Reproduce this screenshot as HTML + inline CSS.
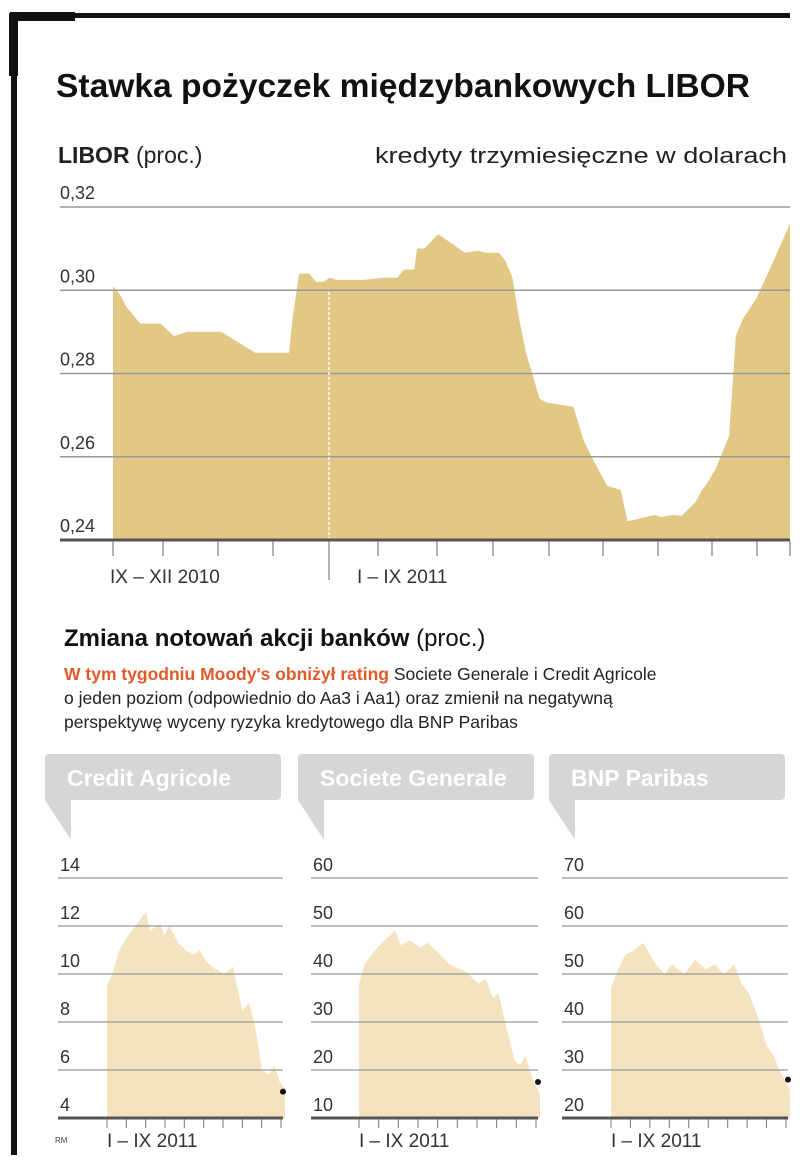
<!DOCTYPE html>
<html><head><meta charset="utf-8"><style>
body{margin:0;background:#fff;width:805px;height:1165px;overflow:hidden}
svg{display:block;font-family:"Liberation Sans Narrow","Liberation Sans",sans-serif}
</style></head><body>
<svg id="s" width="805" height="1165" viewBox="0 0 805 1165">
<rect x="10" y="12" width="65" height="9" fill="#111"/>
<rect x="10" y="13" width="780" height="5" fill="#111"/>
<rect x="9" y="13" width="9" height="63" fill="#111"/>
<rect x="11" y="13" width="6" height="1142" fill="#111"/>
<text x="56" y="97" font-size="33" font-weight="bold" fill="#111" textLength="694" lengthAdjust="spacingAndGlyphs">Stawka pożyczek międzybankowych LIBOR</text>
<text x="58" y="163" font-size="23" fill="#222"><tspan font-weight="bold">LIBOR</tspan> (proc.)</text>
<text x="787" y="163" font-size="22" fill="#222" text-anchor="end" textLength="412" lengthAdjust="spacingAndGlyphs">kredyty trzymiesięczne w dolarach</text>
<g id="topchart"></g>
<text x="64" y="646" font-size="24" fill="#111"><tspan font-weight="bold">Zmiana notowań akcji banków</tspan> (proc.)</text>
<text x="64" y="680" font-size="17.5" fill="#222"><tspan fill="#e05a2b" font-weight="bold">W tym tygodniu Moody's obniżył rating</tspan> Societe Generale i Credit Agricole</text>
<text x="64" y="704" font-size="17.5" fill="#222">o jeden poziom (odpowiednio do Aa3 i Aa1) oraz zmienił na negatywną</text>
<text x="64" y="728" font-size="17.5" fill="#222">perspektywę wyceny ryzyka kredytowego dla BNP Paribas</text>
<text x="55" y="1143" font-size="8" fill="#444">RM</text>
<g id="small"></g>
</svg>
<script>
const NS="http://www.w3.org/2000/svg";
function mk(tag,attrs,parent){const e=document.createElementNS(NS,tag);for(const k in attrs)e.setAttribute(k,attrs[k]);parent.appendChild(e);return e;}
const liborT=[0,1,2,4,7,9,11,16,18,20,21,26,26.5,27.5,29,30,31,32,33,37,40,42,43,44.5,44.9,46,48,52,54,55,57,58,59,60,61,63,64,68,69.5,71,73,75,76,80,81,82.5,84,86,87,87.5,89,91,92,93,95,97,100];
const liborV=[0.301,0.299,0.296,0.292,0.292,0.289,0.290,0.290,0.288,0.286,0.285,0.285,0.293,0.304,0.304,0.302,0.302,0.303,0.3025,0.3025,0.303,0.303,0.305,0.305,0.310,0.310,0.3135,0.309,0.3095,0.309,0.309,0.307,0.303,0.293,0.285,0.274,0.273,0.272,0.264,0.259,0.253,0.252,0.2445,0.246,0.2455,0.246,0.2458,0.249,0.252,0.253,0.257,0.265,0.289,0.293,0.298,0.305,0.316];
const liborTicks=[0.24,0.26,0.28,0.30,0.32];
const liborTickLabels=["0,24","0,26","0,28","0,30","0,32"];
const periodLabels=["IX – XII 2010","I – IX 2011"];
const banks=["Credit Agricole","Societe Generale","BNP Paribas"];
const caT=[0,3,7,11,16,22,24,30,32,35,40,44,49,52,56,61,66,71,73,76,80,84,87,91,94,97,100];
const caV=[9.5,10,11,11.5,12,12.6,11.8,12.1,11.6,12,11.3,11,10.8,11,10.5,10.2,10,10.3,9.5,8.5,8.8,7.5,6,5.8,6.2,5.5,5.2];
const sgT=[0,3,9,14,20,23,28,34,38,45,50,59,66,70,74,77,82,86,89,92,96,100];
const sgV=[38,42,45,47,49,46,47,45.5,46.5,44,42,40.5,38,39,35,36,28,22,21,23,18,15];
const bnT=[0,4,8,13,18,25,30,34,41,47,53,58,63,69,73,77,83,87,91,94,100];
const bnV=[47,51,54,55,56.5,52,50,52,50,53,51,52,50,52,48,46,40,35,33,30,26];
const yTicks=[[4,6,8,10,12,14],[10,20,30,40,50,60],[20,30,40,50,60,70]];
const lastDot=[5.1,17.5,28];

const X0=113,X1=790,Y0=540,Y1=207;
const lx=t=>X0+(X1-X0)*t/100, ly=v=>Y0-(v-0.24)/(0.32-0.24)*(Y0-Y1);
const topG=document.getElementById('topchart');
let d=`M${lx(liborT[0])},${Y0}`;liborT.forEach((t,i)=>d+=`L${lx(t)},${ly(liborV[i])}`);d+=`L${lx(liborT[liborT.length-1])},${Y0}Z`;
const area=mk('path',{d,fill:'#e3c785'},topG);


liborTicks.forEach((v,i)=>{
 const g=mk('line',{x1:60,x2:790,y1:ly(v),y2:ly(v),stroke:i==0?'#555':'#999','stroke-width':i==0?3:1.5},topG);
 
 
 const t=mk('text',{x:60,y:ly(v)-8,'font-size':18,fill:'#333'},topG);t.textContent=liborTickLabels[i];
 
 
});
const tickX=[113,163,218,273,378,437,493,549,603,658,712,757,790];
tickX.forEach(x=>{const l=mk('line',{x1:x,x2:x,y1:541,y2:556,stroke:'#888','stroke-width':1.3},topG);
 
 });
const dv=mk('line',{x1:329,x2:329,y1:292,y2:538,stroke:'#fff','stroke-width':1.5,'stroke-dasharray':'3,2'},topG);


const dv2=mk('line',{x1:329,x2:329,y1:541,y2:580,stroke:'#888','stroke-width':1.3},topG);


[[110,periodLabels[0]],[357,periodLabels[1]]].forEach(([x,s])=>{const t=mk('text',{x,y:583,'font-size':19,fill:'#333'},topG);t.textContent=s;
 
 });

const seriesT=[caT,sgT,bnT], seriesV=[caV,sgV,bnV];
const panelX=[[58,107,285],[311,359,540],[562,611,790]];
const SY0=1118,SY1=878;
const smallG=document.getElementById('small');
banks.forEach((name,b)=>{
 const [gx,ax0,ax1]=panelX[b];const tk=yTicks[b];const lo=tk[0],hi=tk[tk.length-1];
 const sx=t=>ax0+(ax1-ax0)*t/100, sy=v=>SY0-(v-lo)/(hi-lo)*(SY0-SY1);
 const g=mk('g',{},smallG);
 
 
 const bx=gx-13;
 const call=mk('path',{d:`M${bx+4},754 H${bx+232} a4,4 0 0 1 4,4 V796 a4,4 0 0 1 -4,4 H${bx+26} V840 L${bx},800 V758 a4,4 0 0 1 4,-4Z`,fill:'#d6d6d6'},g);
 
 
 const nt=mk('text',{x:bx+22,y:786,'font-size':23,'font-weight':'bold',fill:'#fff'},g);nt.textContent=name;
 
 
 const T=seriesT[b],V=seriesV[b];
 let p=`M${sx(T[0])},${SY0}`;T.forEach((t,i)=>p+=`L${sx(t)},${sy(V[i])}`);p+=`L${sx(T[T.length-1])},${SY0}Z`;
 const a=mk('path',{d:p,fill:'#f3e4bf'},g);
 
 
 tk.forEach((v,i)=>{
  const l=mk('line',{x1:gx,x2:ax1-2,y1:sy(v),y2:sy(v),stroke:i==0?'#555':'#999','stroke-width':i==0?3:1.3},g);
  
  
  const t=mk('text',{x:gx+2,y:sy(v)-7,'font-size':18,fill:'#333'},g);t.textContent=v;
  
  
 });
 for(let i=0;i<=9;i++){const x=ax0+(ax1-ax0-4)*i/9;const l=mk('line',{x1:x,x2:x,y1:1119,y2:1128,stroke:'#777','stroke-width':1},g);
  
  }
 const dot=mk('circle',{cx:ax1-2,cy:sy(lastDot[b]),r:3,fill:'#111'},g);
 
 
 const xl=mk('text',{x:ax0,y:1147,'font-size':19,fill:'#333'},g);xl.textContent=periodLabels[1];
 
 
});
</script>
</body></html>
